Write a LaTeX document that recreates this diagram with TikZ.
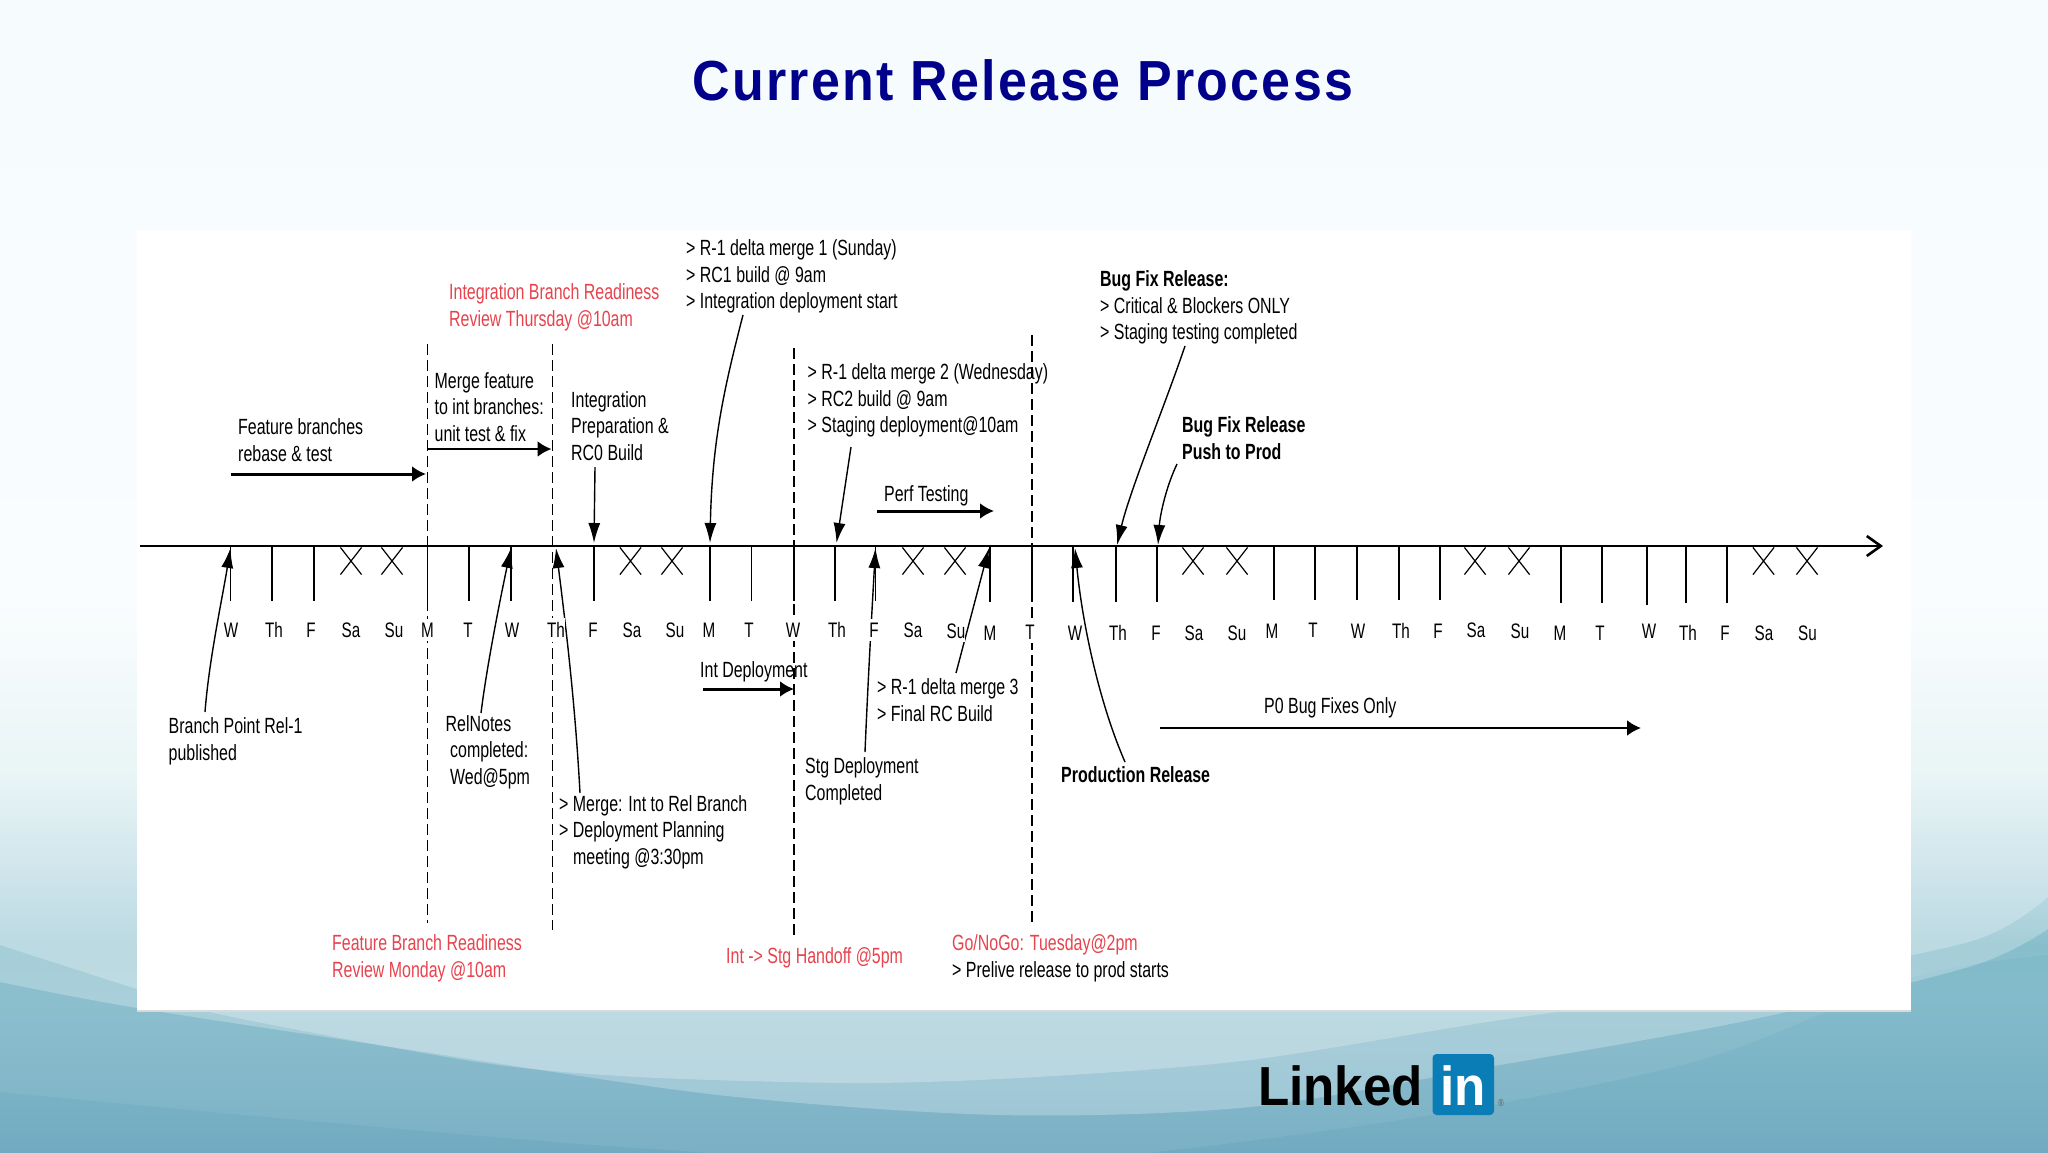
\documentclass[tikz,border=0pt]{standalone}
\usepackage{fontspec}
\setmainfont[FakeStretch=0.725]{Liberation Sans}
\newfontfamily\titlefont[FakeStretch=0.92,LetterSpace=4]{Liberation Sans}
\newfontfamily\logofont[FakeStretch=0.93]{Liberation Sans}
\usetikzlibrary{arrows.meta,shapes.misc}

\definecolor{titleblue}{HTML}{00008B}
\definecolor{notered}{HTML}{E8434D}
\definecolor{logoblue}{HTML}{0B7DB6}
\definecolor{bgA}{HTML}{72ABC1}
\definecolor{bgB}{HTML}{84BBCB}
\definecolor{bgC}{HTML}{80BAC8}
\definecolor{bgD}{HTML}{9FCBDA}
\definecolor{bgE}{HTML}{D6EDEF}
\definecolor{bgF}{HTML}{F8FDFF}
\definecolor{bgG}{HTML}{EFFAFD}
\pgfdeclareverticalshading{slidebg}{100bp}{color(0bp)=(bgA); color(25bp)=(bgA); color(31.6bp)=(bgB); color(34bp)=(bgC); color(36.7bp)=(bgD); color(41.3bp)=(bgE); color(49bp)=(bgF); color(75bp)=(bgG); color(100bp)=(bgG)}

\tikzset{
	note/.style={anchor=west, inner sep=0pt, align=left, font=\fontsize{22}{26.7}\selectfont},
	daylabel/.style={fill=white, inner xsep=0pt, inner ysep=4pt, font=\fontsize{21}{24}\selectfont},
	daytick/.style={line width=1.5pt},
	noday/.style={cross out, draw, line width=1.2pt, minimum width=20pt, minimum height=26pt, inner sep=0pt},
	boundary/.style={line width=1.6pt, dash pattern=on 11pt off 5pt},
	span/.style={line width=3pt, -{Latex[length=14pt,width=16pt]}},
	callout/.style={line width=1.4pt, -{Latex[length=20pt,width=12pt]}},
	swoosh/.style={white, opacity=0.25}
}

\begin{document}
\begin{tikzpicture}[x=1pt,y=-1pt]
	\useasboundingbox (0,0) rectangle (2048,1152);
	% slide background
	\begin{scope}
		\clip (0,0) rectangle (2048,1152);
		\shade[shading=slidebg] (0,0) rectangle (2048,1152);
		\fill[swoosh, opacity=0.07] plot[smooth] coordinates {(0,1092) (300,1120) (638,1148) (1000,1165) (1400,1120) (1700,1060) (1912,977) (2048,955)} -- (2048,0) -- (0,0) -- cycle;
		\fill[swoosh] plot[smooth] coordinates {(0,982) (137,1008) (399,1048) (718,1095) (1000,1115) (1250,1107) (1500,1065) (1750,1020) (1972,966) (2048,929)} -- (2048,0) -- (0,0) -- cycle;
		\fill[swoosh] plot[smooth] coordinates {(0,945) (137,989) (223,1015) (478,1062) (638,1077) (860,1083) (1037,1077) (1250,1060) (1500,1020) (1750,985) (1972,941) (2048,897)} -- (2048,0) -- (0,0) -- cycle;
	\end{scope}
	\fill[white] (137,230) rectangle (1911,1011);
	\draw[black!15, line width=1.5pt] (137,1011) -- (1911,1011);

	\node[anchor=base, inner sep=0pt, text=titleblue, font=\titlefont\bfseries\fontsize{56.5}{60}\selectfont] (title) at (1023,100.5) {Current Release Process};

	% phase boundaries
	\coordinate (b1top) at (427.5,344);
	\coordinate (b1bot) at (427.5,923);
	\coordinate (b2top) at (552.5,344);
	\coordinate (b2bot) at (552.5,930);
	\coordinate (b3top) at (794,348);
	\coordinate (b3bot) at (794,935);
	\coordinate (b4top) at (1032,335);
	\coordinate (b4bot) at (1032,923);
	\foreach \b in {b1,b2,b3,b4}
		\draw[boundary] (\b top) -- (\b bot);

	% time line
	\coordinate (axisstart) at (140,546);
	\coordinate (axisend) at (1883,546);
	\draw[line width=2.6pt, -{Straight Barb[length=14pt,width=20pt]}] (axisstart) -- (axisend);

	% working days
	\foreach \n/\x/\y in {w1/230.5/601, w2/272/601, w3/314/601, w4/427.5/601, w5/469/601, w6/511/601, w7/594/601, w8/710/601, w9/751.5/601, w10/794/601, w11/835/601, w12/875.5/601, w13/990/602, w14/1032/602, w15/1073/602, w16/1116/602, w17/1157/602, w18/1274/600, w19/1315/600, w20/1357/600, w21/1399/600, w22/1440/600, w23/1561/603, w24/1602/603, w25/1647/605, w26/1686/603, w27/1727/603}{
		\coordinate (\n) at (\x,546);
		\coordinate (\n end) at (\x,\y);
		\draw[daytick] (\n) -- (\n end);
	}
	% weekends
	\foreach \n/\x in {x1/351, x2/392, x3/630.5, x4/672, x5/913, x6/955, x7/1193, x8/1237, x9/1475, x10/1519, x11/1763.5, x12/1807}
		\node[noday] (\n) at (\x,561) {};

	% spans
	\coordinate (rebasefrom) at (230.5,474);
	\coordinate (rebaseto) at (426,474);
	\coordinate (mergefrom) at (427.5,449);
	\coordinate (mergeto) at (551.5,449);
	\coordinate (perffrom) at (877,511);
	\coordinate (perfto) at (994,511);
	\coordinate (intfrom) at (703,689);
	\coordinate (intto) at (794,689);
	\coordinate (pzerofrom) at (1160,728);
	\coordinate (pzeroto) at (1641,728);
	\draw[span] (rebasefrom) -- (rebaseto);
	\draw[span, line width=2.4pt] (mergefrom) -- (mergeto);
	\draw[span] (perffrom) -- (perfto);
	\draw[span] (intfrom) -- (intto);
	\draw[span, line width=2.4pt] (pzerofrom) -- (pzeroto);

	% callouts
	\coordinate (branchfrom) at (205,712);
	\coordinate (branchto) at (230.5,548);
	\coordinate (relnotesfrom) at (481,713);
	\coordinate (relnotesto) at (511,548);
	\coordinate (rcmergefrom) at (580,793);
	\coordinate (rcmergeto) at (556,548);
	\coordinate (stgfrom) at (865,752);
	\coordinate (stgto) at (875.5,548);
	\coordinate (finalfrom) at (956,673);
	\coordinate (finalto) at (989,548);
	\coordinate (prepfrom) at (595,467);
	\coordinate (prepto) at (594,543);
	\coordinate (deltaonefrom) at (743,315);
	\coordinate (deltaoneto) at (710,543);
	\coordinate (deltatwofrom) at (851,447);
	\coordinate (deltatwoto) at (836.5,543);
	\coordinate (bugfixfrom) at (1185,346);
	\coordinate (bugfixto) at (1117,545);
	\coordinate (pushfrom) at (1177,464);
	\coordinate (pushto) at (1158,545);
	\coordinate (prodfrom) at (1125,762);
	\coordinate (prodto) at (1075,548);
	\draw[callout] (branchfrom) .. controls (209,660) and (222,600) .. (branchto);
	\draw[callout] (relnotesfrom) .. controls (487,665) and (500,600) .. (relnotesto);
	\draw[callout] (rcmergefrom) .. controls (575,700) and (565,620) .. (rcmergeto);
	\draw[callout] (stgfrom) .. controls (868,680) and (872,610) .. (stgto);
	\draw[callout] (finalfrom) -- (finalto);
	\draw[callout] (prepfrom) -- (prepto);
	\draw[callout] (deltaonefrom) .. controls (725,385) and (712,440) .. (deltaoneto);
	\draw[callout] (deltatwofrom) -- (deltatwoto);
	\draw[callout] (bugfixfrom) .. controls (1165,405) and (1130,490) .. (bugfixto);
	\draw[callout] (pushfrom) .. controls (1166,487) and (1160,515) .. (pushto);

	% day names
	\foreach \n/\x/\y/\d in {d1/231/630/W, d2/274/630/Th, d3/311/630/F, d4/351/630/Sa, d5/394/630/Su, d6/427.5/630/M, d7/468/630/T, d8/512/630/W, d9/556/630/Th, d10/593/630/F, d11/632/630/Sa, d12/675/630/Su, d13/709/630/M, d14/749/630/T, d15/793/630/W, d16/837/630/Th, d17/874/630/F, d18/913/630/Sa, d19/956/631/Su, d20/990/633/M, d21/1030/632/T, d22/1075/633/W, d23/1118/633/Th, d24/1156/633/F, d25/1194/633/Sa, d26/1237/633/Su, d27/1272/631/M, d28/1313/630/T, d29/1358/631/W, d30/1401/631/Th, d31/1438/631/F, d32/1476/630/Sa, d33/1520/631/Su, d34/1560/633/M, d35/1600/633/T, d36/1649/631/W, d37/1688/633/Th, d38/1725/633/F, d39/1764/633/Sa, d40/1807.5/633/Su}
		\node[daylabel] (\n) at (\x,\y) {\d};
	\draw[callout] (prodfrom) .. controls (1098,700) and (1082,620) .. (prodto);

	% notes above the line
	\node[note, text=notered] (intreview) at (449,307) {Integration Branch Readiness\\Review Thursday @10am};
	\node[note] (deltaone) at (686,276.5) {> R-1 delta merge 1 (Sunday)\\> RC1 build @ 9am\\> Integration deployment start};
	\node[note] (mergenote) at (434.5,407) {Merge feature\\to int branches:\\unit test \& fix};
	\node[note] (rebasenote) at (238,440) {Feature branches\\rebase \& test};
	\node[note] (prepnote) at (571,426) {Integration\\Preparation \&\\RC0 Build};
	\node[note] (deltatwo) at (807.5,400.5) {> R-1 delta merge 2 (Wednesday)\\> RC2 build @ 9am\\> Staging deployment@10am};
	\node[note] (perfnote) at (884,495.5) {Perf Testing};
	\node[note] (bugfix) at (1100,307.5) {\textbf{Bug Fix Release:}\\> Critical \& Blockers ONLY\\> Staging testing completed};
	\node[note, font=\fontsize{22}{26.7}\selectfont\bfseries] (pushnote) at (1182,438) {Bug Fix Release\\Push to Prod};

	% notes below the line
	\node[note] (branchnote) at (168.5,741) {Branch Point Rel-1\\published};
	\node[note] (relnotes) at (445.5,752) {RelNotes\\\hspace*{4.5pt}completed:\\\hspace*{4.5pt}Wed@5pm};
	\node[note] (stgnote) at (805,781) {Stg Deployment\\Completed};
	\node[note] (finalnote) at (877,700) {> R-1 delta merge 3\\> Final RC Build};
	\node[note] (intnote) at (700,672) {Int Deployment};
	\node[note, font=\fontsize{22}{26.7}\selectfont\bfseries] (prodnote) at (1061,775) {Production Release};
	\node[note] (rcmerge) at (559,832) {> Merge: Int to Rel Branch\\> Deployment Planning\\\hspace*{14pt}meeting @3:30pm};
	\node[note, text=notered] (featreview) at (332,958) {Feature Branch Readiness\\Review Monday @10am};
	\node[note, text=notered] (handoff) at (726,958) {Int -> Stg Handoff @5pm};
	\node[note] (gonogo) at (952,958) {\textcolor{notered}{Go/NoGo: Tuesday@2pm}\\> Prelive release to prod starts};
	\node[note] (pzeronote) at (1264,707.5) {P0 Bug Fixes Only};

	% logo
	\node[anchor=base west, inner sep=0pt, font=\logofont\bfseries\fontsize{55}{60}\selectfont] (linked) at (1258,1105.5) {Linked};
	\fill[logoblue, rounded corners=4pt] (1432.5,1054) rectangle (1494,1115);
	\node[anchor=base west, inner sep=0pt, text=white, font=\logofont\bfseries\fontsize{55}{60}\selectfont] (in) at (1440,1105.5) {in};
	\node[inner sep=0pt, text=black!65, font=\fontsize{10}{12}\selectfont] (reg) at (1501,1103) {®};
\end{tikzpicture}
\end{document}
